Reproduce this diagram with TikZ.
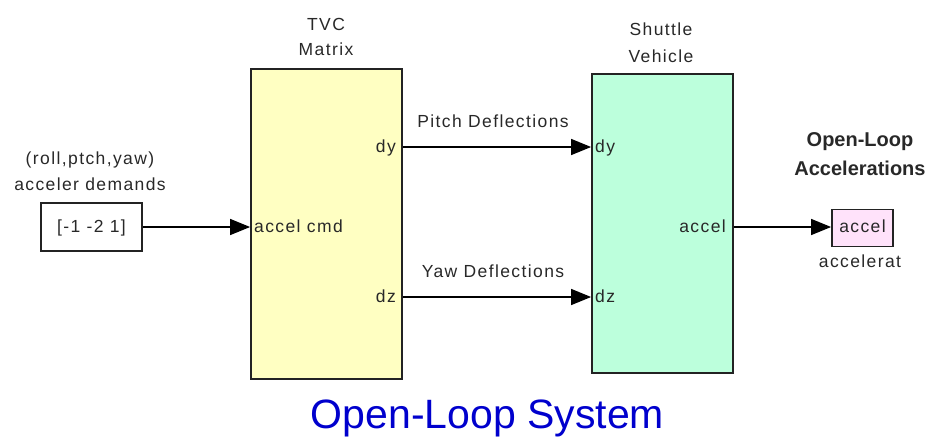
\documentclass[tikz,border=0pt]{standalone}
\usepackage{fontspec}
\setmainfont{Liberation Sans}
\newfontfamily\labfont[LetterSpace=8]{Liberation Sans}
\usetikzlibrary{arrows.meta}
\definecolor{tvcfill}{RGB}{255,255,194}
\definecolor{vehfill}{RGB}{188,255,220}
\definecolor{scopefill}{RGB}{255,226,250}
\definecolor{txt}{RGB}{40,40,40}
\definecolor{ttl}{RGB}{0,0,205}
\definecolor{edge}{RGB}{35,35,35}
\begin{document}
\begin{tikzpicture}[x=1pt,y=-1pt,
  blk/.style={draw=edge, line width=1.8pt, inner sep=0pt},
  lab/.style={font=\labfont\fontsize{17.5}{17.5}\selectfont, text=txt, inner sep=0pt},
  blab/.style={font=\bfseries\fontsize{20}{20}\selectfont, text=txt, inner sep=0pt},
  arr/.style={line width=1.4pt, draw=black, -{Triangle[length=20pt,width=16pt]}}]
\useasboundingbox (0,0) rectangle (928,437);
% blocks
\node[blk, fill=tvcfill, minimum width=151pt, minimum height=310pt] (tvc) at (326.5,224) {};
\node[blk, fill=vehfill, minimum width=141pt, minimum height=299pt] (veh) at (662.5,223.5) {};
\node[blk, fill=white, minimum width=101pt, minimum height=48pt] (const) at (91.5,227) {};
\node[blk, fill=scopefill, minimum width=61pt, minimum height=37pt] (scope) at (862.5,228) {};
% block titles
\node[lab, anchor=base] (t1) at (326,30) {TVC};
\node[lab, anchor=base] (t2) at (326,55) {Matrix};
\node[lab, anchor=base] (s1) at (661,35) {Shuttle};
\node[lab, anchor=base] (s2) at (661,62) {Vehicle};
\node[lab, anchor=base] (c1) at (90,164) {(roll,ptch,yaw)};
\node[lab, anchor=base] (c2) at (90,190) {acceler demands};
\node[blab, anchor=base] (o1) at (860,146) {Open-Loop};
\node[blab, anchor=base] (o2) at (860,175) {Accelerations};
\node[lab, anchor=base] (sc) at (860,267) {accelerat};
% block contents
\node[lab, anchor=base] (cv) at (const.center |- 0,232) {[-1 -2 1]};
\node[lab, anchor=base] (sv) at (scope.center |- 0,232) {accel};
% port labels
\node[lab, anchor=base west] (pin) at (254,232) {accel cmd};
\node[lab, anchor=base east] (pdy) at (396,152) {dy};
\node[lab, anchor=base east] (pdz) at (396,302) {dz};
\node[lab, anchor=base west] (qdy) at (595,152) {dy};
\node[lab, anchor=base west] (qdz) at (595,302) {dz};
\node[lab, anchor=base east] (qac) at (726,232) {accel};
% port coordinates
\coordinate (dyo) at (tvc.east |- 0,147);
\coordinate (dzo) at (tvc.east |- 0,297);
\coordinate (dyi) at (veh.west |- 0,147);
\coordinate (dzi) at (veh.west |- 0,297);
\coordinate (ain) at (tvc.west |- 0,227);
\coordinate (aout) at (veh.east |- 0,227);
\coordinate (sin) at (scope.west |- 0,227);
% connectors
\draw[arr] (const.east |- 0,227) -- (ain);
\draw[arr] (dyo) -- (dyi);
\draw[arr] (dzo) -- (dzi);
\draw[arr] (aout) -- (sin);
% line labels
\node[lab, anchor=base] (pl) at (493,127) {Pitch Deflections};
\node[lab, anchor=base] (yl) at (493,277) {Yaw Deflections};
% title
\node[font=\fontsize{41}{41}\selectfont, text=ttl, inner sep=0pt, anchor=base] (title) at (487.5,428) {Open-Loop System};
\end{tikzpicture}
\end{document}
